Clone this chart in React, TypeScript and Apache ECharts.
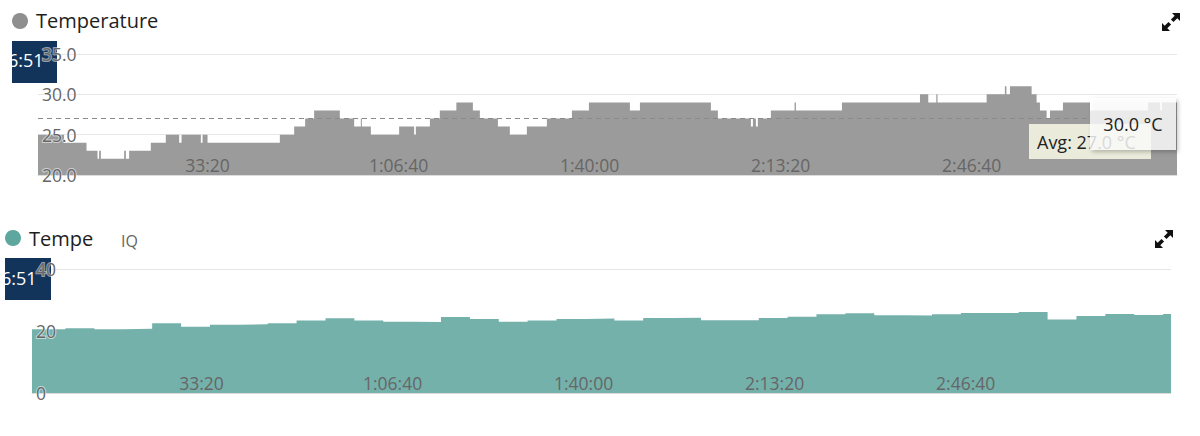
import React, { useEffect, useRef } from "react";
import * as echarts from "echarts";

// ---- data (seconds since start, value) ----
const tempTimes = [
  225, 498, 733, 848, 865, 883, 1127, 1145, 1179, 1406, 1563, 1703, 1728, 1930, 1948, 2000,
  2757, 2907, 3022, 3116, 3385, 3535, 3605, 3616, 3710, 4006, 4163, 4181, 4328, 4432, 4605,
  4778, 4851, 5040, 5165, 5343, 5553, 5815, 5993, 6422, 6527, 7270, 7343, 7689, 7710, 7741,
  7762, 7898, 8146, 8160, 8642, 9459, 9546, 9630, 9643, 10157, 10348, 10364, 10401, 10628,
  10680, 10715, 10785, 10820, 10956, 11239, 11846, 11972, 11993, 12150,
];
const tempValues = [
  25, 24, 23, 22, 23, 22, 23, 22, 23, 24, 25, 24, 25, 24, 25, 24,
  25, 26, 27, 28, 27, 26, 27, 26, 25, 26, 25, 26, 27, 28, 29,
  28, 27, 26, 25, 26, 27, 28, 29, 28, 29, 28, 27, 26, 27, 26,
  27, 28, 29, 28, 29, 30, 29, 30, 29, 30, 31, 30, 31, 30,
  29, 28, 27, 28, 29, 28, 29, 28, 29, 29,
];

const iqTimes = [
  225, 576, 878, 1181, 1483, 1786, 2088, 2390, 2693, 2995, 3298, 3600, 3902, 4205, 4507,
  4810, 5112, 5414, 5717, 6019, 6322, 6624, 6926, 7229, 7531, 7834, 8136, 8438, 8741, 9043,
  9346, 9648, 9950, 10253, 10555, 10858, 11160, 11462, 11765, 12067, 12150,
];
const iqValues = [
  20.6, 20.9, 20.6, 20.7, 22.5, 21.4, 22.0, 22.2, 22.5, 23.4, 24.1, 23.4, 23.0, 22.9, 24.5,
  23.9, 23.0, 23.4, 23.9, 24.0, 23.4, 24.2, 24.3, 23.5, 23.5, 24.2, 24.6, 25.4, 25.7, 25.1,
  25.0, 25.4, 25.8, 25.8, 26.1, 23.7, 24.8, 25.5, 25.2, 25.5, 25.5,
];

const xTickSeconds = [2000, 4000, 6000, 8000, 10000];
const tempAxis = { min: 20, max: 35, interval: 5 };
const iqAxis = { min: 0, max: 40, interval: 20 };
const timeRange = { min: 225, max: 12150 };
const tempAvg = 27.0;
const tooltipValue = 30.0;
const pointerLabel = "6:51";
const titleTop = "Temperature";
const titleBottom = "Tempe";
const subBottom = "IQ";

const FONT = "'Open Sans', 'DejaVu Sans', sans-serif";

function fmtTime(s: number): string {
  const h = Math.floor(s / 3600);
  const m = Math.floor((s % 3600) / 60);
  const sec = Math.round(s % 60);
  const pad = (n: number) => String(n).padStart(2, "0");
  return h > 0 ? `${h}:${pad(m)}:${pad(sec)}` : `${m}:${pad(sec)}`;
}

function arrows(ox: number, oy: number, z: number) {
  const up = [[18, 0], [18, 8], [15.3, 5.3], [11.5, 9.1], [8.9, 6.5], [12.7, 2.7], [10, 0]];
  const dn = [[0, 18], [0, 10], [2.7, 12.7], [6.5, 8.9], [9.1, 11.5], [5.3, 15.3], [8, 18]];
  return [up, dn].map((pts) => ({
    type: "polygon",
    z,
    shape: { points: pts.map(([x, y]) => [ox + x, oy + y]) },
    style: { fill: "#111" },
  }));
}

export default function App() {
  const ref = useRef<HTMLDivElement>(null);

  useEffect(() => {
    if (!ref.current) return;
    const chart = echarts.init(ref.current, undefined, { renderer: "svg" });

    const xAxisBase = (gridIndex: number) => ({
      type: "value",
      gridIndex,
      min: timeRange.min,
      max: timeRange.max,
      z: 5,
      axisLine: { show: true, lineStyle: { color: "#dcdcdc", width: 1 } },
      axisTick: { show: false },
      splitLine: { show: false },
      axisLabel: {
        inside: true,
        customValues: xTickSeconds,
        formatter: (v: number) => fmtTime(v),
        color: "#666",
        fontSize: 17.5,
        fontFamily: FONT,
        margin: 1,
      },
    });

    const yLabelAxis = (gridIndex: number, ax: any, digits: number) => ({
      type: "value",
      gridIndex,
      min: ax.min,
      max: ax.max,
      interval: ax.interval,
      z: 5,
      axisLine: { show: false },
      axisTick: { show: false },
      splitLine: { show: false },
      axisLabel: {
        inside: true,
        margin: 4,
        color: "#666",
        fontSize: 17.5,
        fontFamily: FONT,
        textBorderColor: "rgba(255,255,255,0.55)",
        textBorderWidth: 2,
        formatter: (v: number) => v.toFixed(digits),
      },
    });

    const yGridAxis = (gridIndex: number, ax: any) => ({
      type: "value",
      gridIndex,
      min: ax.min,
      max: ax.max,
      interval: ax.interval,
      z: 0,
      axisLine: { show: false },
      axisTick: { show: false },
      axisLabel: { show: false },
      splitLine: { show: true, lineStyle: { color: "#e6e6e6", width: 1 } },
    });

    const option: any = {
      animation: false,
      backgroundColor: "#fff",
      grid: [
        { left: 38, top: 54, width: 1139, height: 121 },
        { left: 32, top: 269, width: 1139, height: 124 },
      ],
      xAxis: [xAxisBase(0), xAxisBase(1)],
      yAxis: [
        yLabelAxis(0, tempAxis, 1),
        yGridAxis(0, tempAxis),
        yLabelAxis(1, iqAxis, 0),
        yGridAxis(1, iqAxis),
      ],
      series: [
        {
          type: "line",
          name: "Temperature",
          xAxisIndex: 0,
          yAxisIndex: 0,
          step: "end",
          symbol: "none",
          showSymbol: false,
          silent: true,
          lineStyle: { width: 0 },
          areaStyle: { color: "#9b9b9b", opacity: 1 },
          data: tempTimes.map((t, i) => [t, tempValues[i]]),
          markLine: {
            silent: true,
            symbol: ["none", "none"],
            label: { show: false },
            lineStyle: { color: "#8a8a8a", type: [5, 4], width: 1 },
            data: [{ yAxis: tempAvg }],
          },
        },
        {
          type: "line",
          name: "Tempe IQ",
          xAxisIndex: 1,
          yAxisIndex: 2,
          step: "end",
          symbol: "none",
          showSymbol: false,
          silent: true,
          lineStyle: { width: 0 },
          areaStyle: { color: "#75b1ab", opacity: 1 },
          data: iqTimes.map((t, i) => [t, iqValues[i]]),
        },
      ],
      graphic: {
        elements: [
          // titles
          { type: "circle", z: 1, shape: { cx: 20, cy: 21, r: 8 }, style: { fill: "#8f8f8f" } },
          {
            type: "text", z: 1, x: 36, y: 20,
            style: { text: titleTop, fontSize: 20, fontFamily: FONT, fill: "#1e1e1e", verticalAlign: "middle" },
          },
          { type: "circle", z: 1, shape: { cx: 13, cy: 238, r: 8 }, style: { fill: "#5ea79f" } },
          {
            type: "text", z: 1, x: 29, y: 238,
            style: { text: titleBottom, fontSize: 20, fontFamily: FONT, fill: "#1e1e1e", verticalAlign: "middle" },
          },
          {
            type: "text", z: 1, x: 121, y: 241,
            style: { text: subBottom, fontSize: 16, fontFamily: FONT, fill: "#666", verticalAlign: "middle" },
          },
          // pointer label boxes
          { type: "rect", z: 1, shape: { x: 12, y: 41, width: 45, height: 42 }, style: { fill: "#13345a" } },
          {
            type: "text", z: 2, x: 43.5, y: 60,
            style: { text: pointerLabel, fontSize: 18, fontFamily: FONT, fill: "#fff", align: "right", verticalAlign: "middle" },
          },
          { type: "rect", z: 3, shape: { x: 0, y: 40, width: 12, height: 44 }, style: { fill: "#fff" } },
          { type: "rect", z: 1, shape: { x: 5, y: 258, width: 46, height: 42 }, style: { fill: "#13345a" } },
          {
            type: "text", z: 2, x: 36.5, y: 277.5,
            style: { text: pointerLabel, fontSize: 18, fontFamily: FONT, fill: "#fff", align: "right", verticalAlign: "middle" },
          },
          { type: "rect", z: 3, shape: { x: 0, y: 257, width: 5, height: 44 }, style: { fill: "#fff" } },
          // avg label and tooltip
          {
            type: "rect", z: 10, shape: { x: 1029, y: 124, width: 122, height: 35 },
            style: { fill: "rgba(238,238,222,0.96)" },
          },
          {
            type: "text", z: 11, x: 1037, y: 141.5,
            style: { text: `Avg: ${tempAvg.toFixed(1)} °C`, fontSize: 18, fontFamily: FONT, fill: "#222", verticalAlign: "middle" },
          },
          {
            type: "rect", z: 12, shape: { x: 1090, y: 98, width: 86, height: 52 },
            style: {
              fill: "rgba(255,255,255,0.8)",
              shadowBlur: 4,
              shadowColor: "rgba(0,0,0,0.3)",
              shadowOffsetX: 2,
              shadowOffsetY: 2,
            },
          },
          {
            type: "text", z: 13, x: 1133, y: 123.5,
            style: { text: `${tooltipValue.toFixed(1)} °C`, fontSize: 18, fontFamily: FONT, fill: "#222", align: "center", verticalAlign: "middle" },
          },
          // expand icons
          ...arrows(1162, 13, 1),
          ...arrows(1155, 230, 1),
        ],
      },
    };

    chart.setOption(option);
    return () => chart.dispose();
  }, []);

  return (
    <div
      ref={ref}
      style={{ position: "fixed", left: 0, top: 0, width: 1200, height: 436, background: "#fff" }}
    />
  );
}
